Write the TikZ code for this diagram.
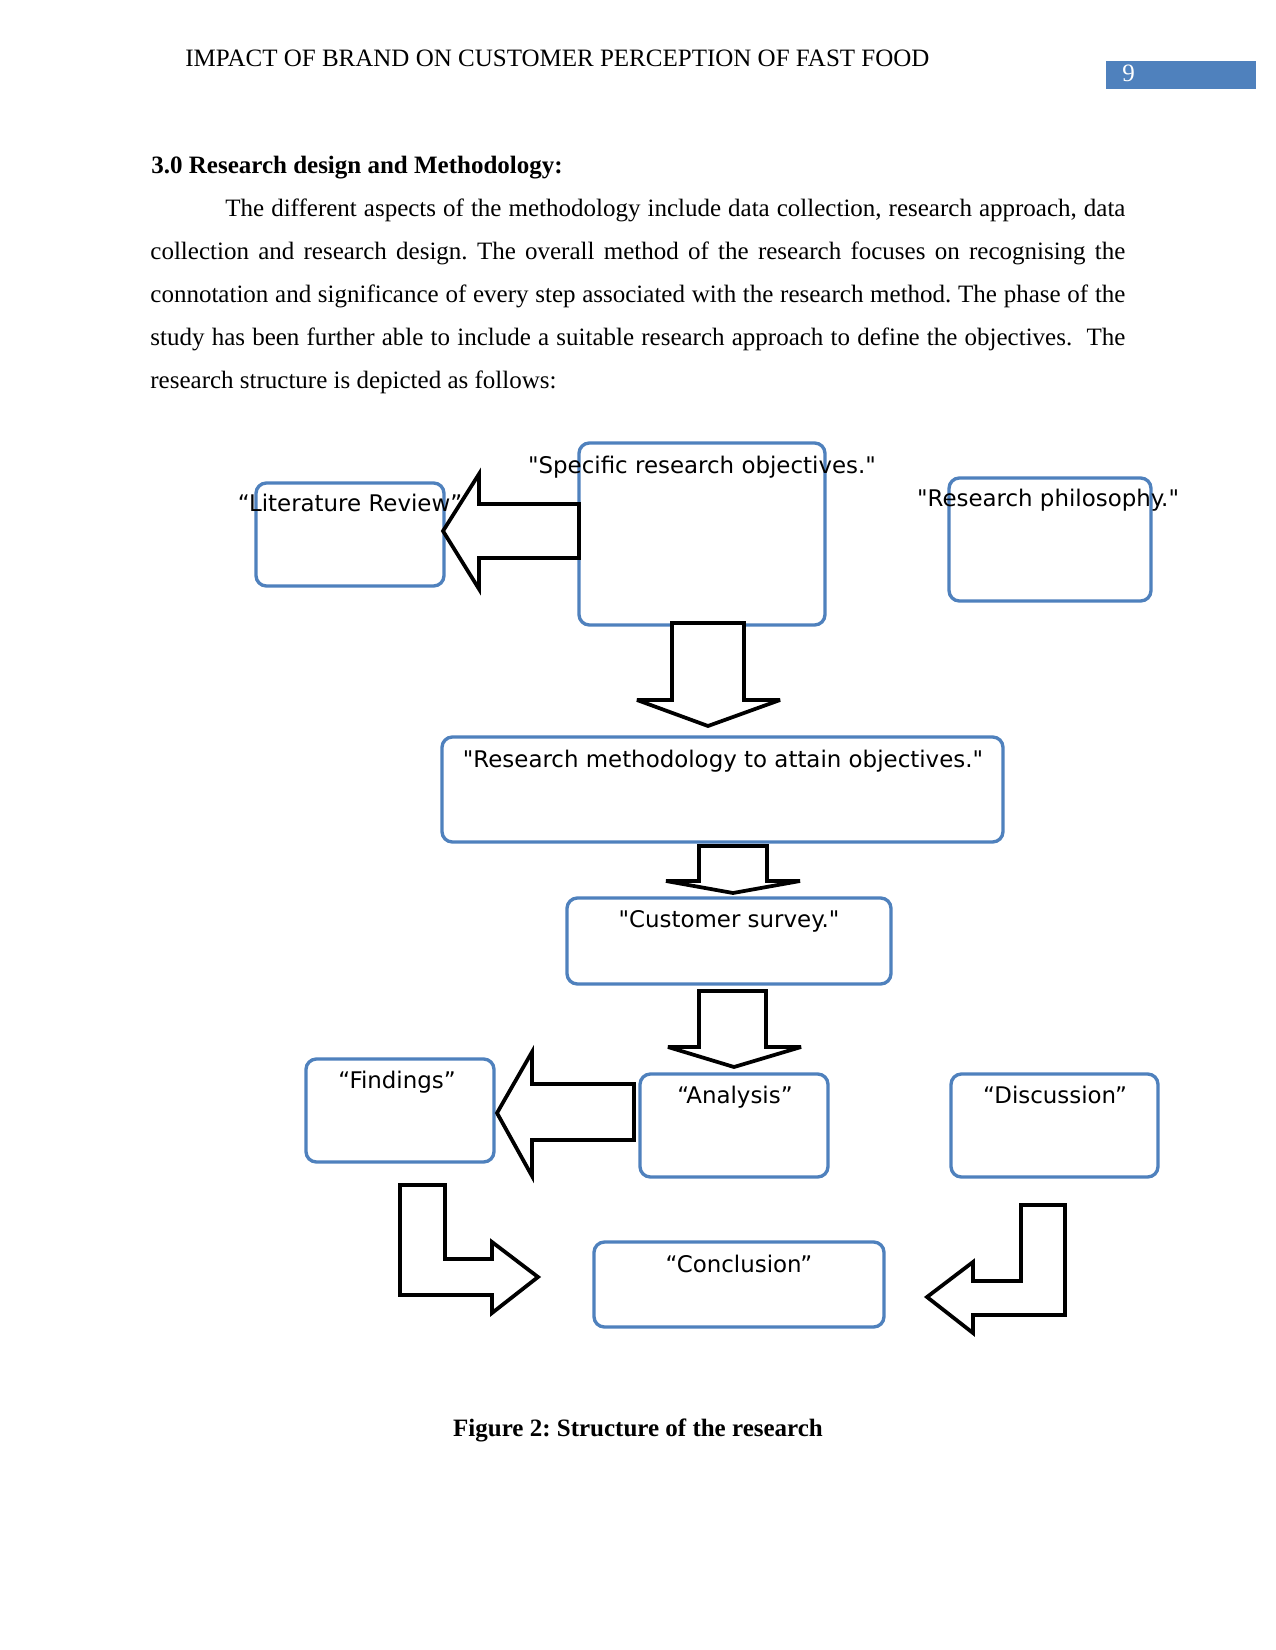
\documentclass[tikz,border=0pt]{standalone}
\usepackage{fontspec}
\setmainfont{Liberation Serif}
\newfontfamily\dejavu{DejaVu Sans}
\usetikzlibrary{fit}
\definecolor{boxblue}{HTML}{4F81BD}
\frenchspacing
\begin{document}
\begin{tikzpicture}[x=0.48pt,y=-0.48pt,
  box/.style={draw=boxblue, line width=1.6pt, rounded corners=5pt, inner sep=0pt},
  blockarrow/.style={draw=black, line width=1.8pt, fill=white, line join=miter, miter limit=4},
  lbl/.style={font=\dejavu\fontsize{11}{13}\selectfont, inner sep=0pt, anchor=base},
  bodytext/.style={font=\fontsize{12}{14}\selectfont, inner sep=0pt, anchor=base west}]
\useasboundingbox (0,0) rectangle (1275,1650);
\fill[white] (0,0) rectangle (1275,1650);

% header
\node[bodytext] (header) at (185,67) {IMPACT OF BRAND ON CUSTOMER PERCEPTION OF FAST FOOD};
\fill[boxblue] (1106,61) rectangle (1256,89);
\node[bodytext, text=white] (pagenum) at (1122,82) {9};

% heading and paragraph
\node[bodytext, font=\fontsize{12}{14}\selectfont\bfseries] (heading) at (151,174) {3.0 Research design and Methodology:};
\node[bodytext] (l1) at (225,217) {\makebox[432pt][s]{The different aspects of the methodology include data collection, research approach, data}};
\node[bodytext] (l2) at (150,260) {\makebox[468pt][s]{collection and research design. The overall method of the research focuses on recognising the}};
\node[bodytext] (l3) at (150,303) {\makebox[468pt][s]{connotation and significance of every step associated with the research method. The phase of the}};
\node[bodytext] (l4) at (150,346) {\makebox[468pt][s]{study has been further able to include a suitable research approach to define the objectives.\ \ The}};
\node[bodytext] (l5) at (150,389) {research structure is depicted as follows:};

% boxes
\node[box, fit={(579,443) (825,625)}] (obj) {};
\node[box, fit={(256,483) (444,586)}] (lit) {};
\node[box, fit={(949,478) (1151,601)}] (phil) {};
\node[box, fit={(442,737) (1003,842)}] (meth) {};
\node[box, fit={(567,898) (891,984)}] (surv) {};
\node[box, fit={(306,1059) (494,1162)}] (find) {};
\node[box, fit={(640,1074) (828,1177)}] (ana) {};
\node[box, fit={(951,1074) (1158,1177)}] (disc) {};
\node[box, fit={(594,1242) (884,1327)}] (conc) {};

% block arrows
\draw[blockarrow] (579,504) -- (479,504) -- (479,474) -- (443,531) -- (479,589) -- (479,558) -- (579,558) -- cycle;
\draw[blockarrow] (672,623) -- (744,623) -- (744,700) -- (780,700) -- (708,726) -- (637,700) -- (672,700) -- cycle;
\draw[blockarrow] (699,846) -- (767,846) -- (767,881) -- (800,881) -- (733,893) -- (666,881) -- (699,881) -- cycle;
\draw[blockarrow] (699,991) -- (766,991) -- (766,1047) -- (801,1047) -- (734,1067) -- (668,1047) -- (699,1047) -- cycle;
\draw[blockarrow] (634,1084) -- (532,1084) -- (532,1052) -- (497,1113) -- (532,1176) -- (532,1140) -- (634,1140) -- cycle;
\draw[blockarrow] (400,1185) -- (445,1185) -- (445,1259) -- (492,1259) -- (492,1242) -- (538,1277) -- (492,1313) -- (492,1295) -- (400,1295) -- cycle;
\draw[blockarrow] (1021,1205) -- (1065,1205) -- (1065,1315) -- (973,1315) -- (973,1333) -- (927,1297) -- (973,1262) -- (973,1281) -- (1021,1281) -- cycle;

% labels
\node[lbl] (objt) at (702,473) {"Specific research objectives."};
\node[lbl] (litt) at (350,511) {“Literature Review”};
\node[lbl] (philt) at (1048,506) {"Research philosophy."};
\node[lbl] (metht) at (723,767) {"Research methodology to attain objectives."};
\node[lbl] (survt) at (729,927) {"Customer survey."};
\node[lbl] (findt) at (397,1088) {“Findings”};
\node[lbl] (anat) at (735,1103) {“Analysis”};
\node[lbl] (disct) at (1055,1103) {“Discussion”};
\node[lbl] (conct) at (739,1272) {“Conclusion”};

% caption
\node[bodytext, anchor=base, font=\fontsize{12}{14}\selectfont\bfseries] (caption) at (638,1436) {Figure 2: Structure of the research};
\end{tikzpicture}
\end{document}
